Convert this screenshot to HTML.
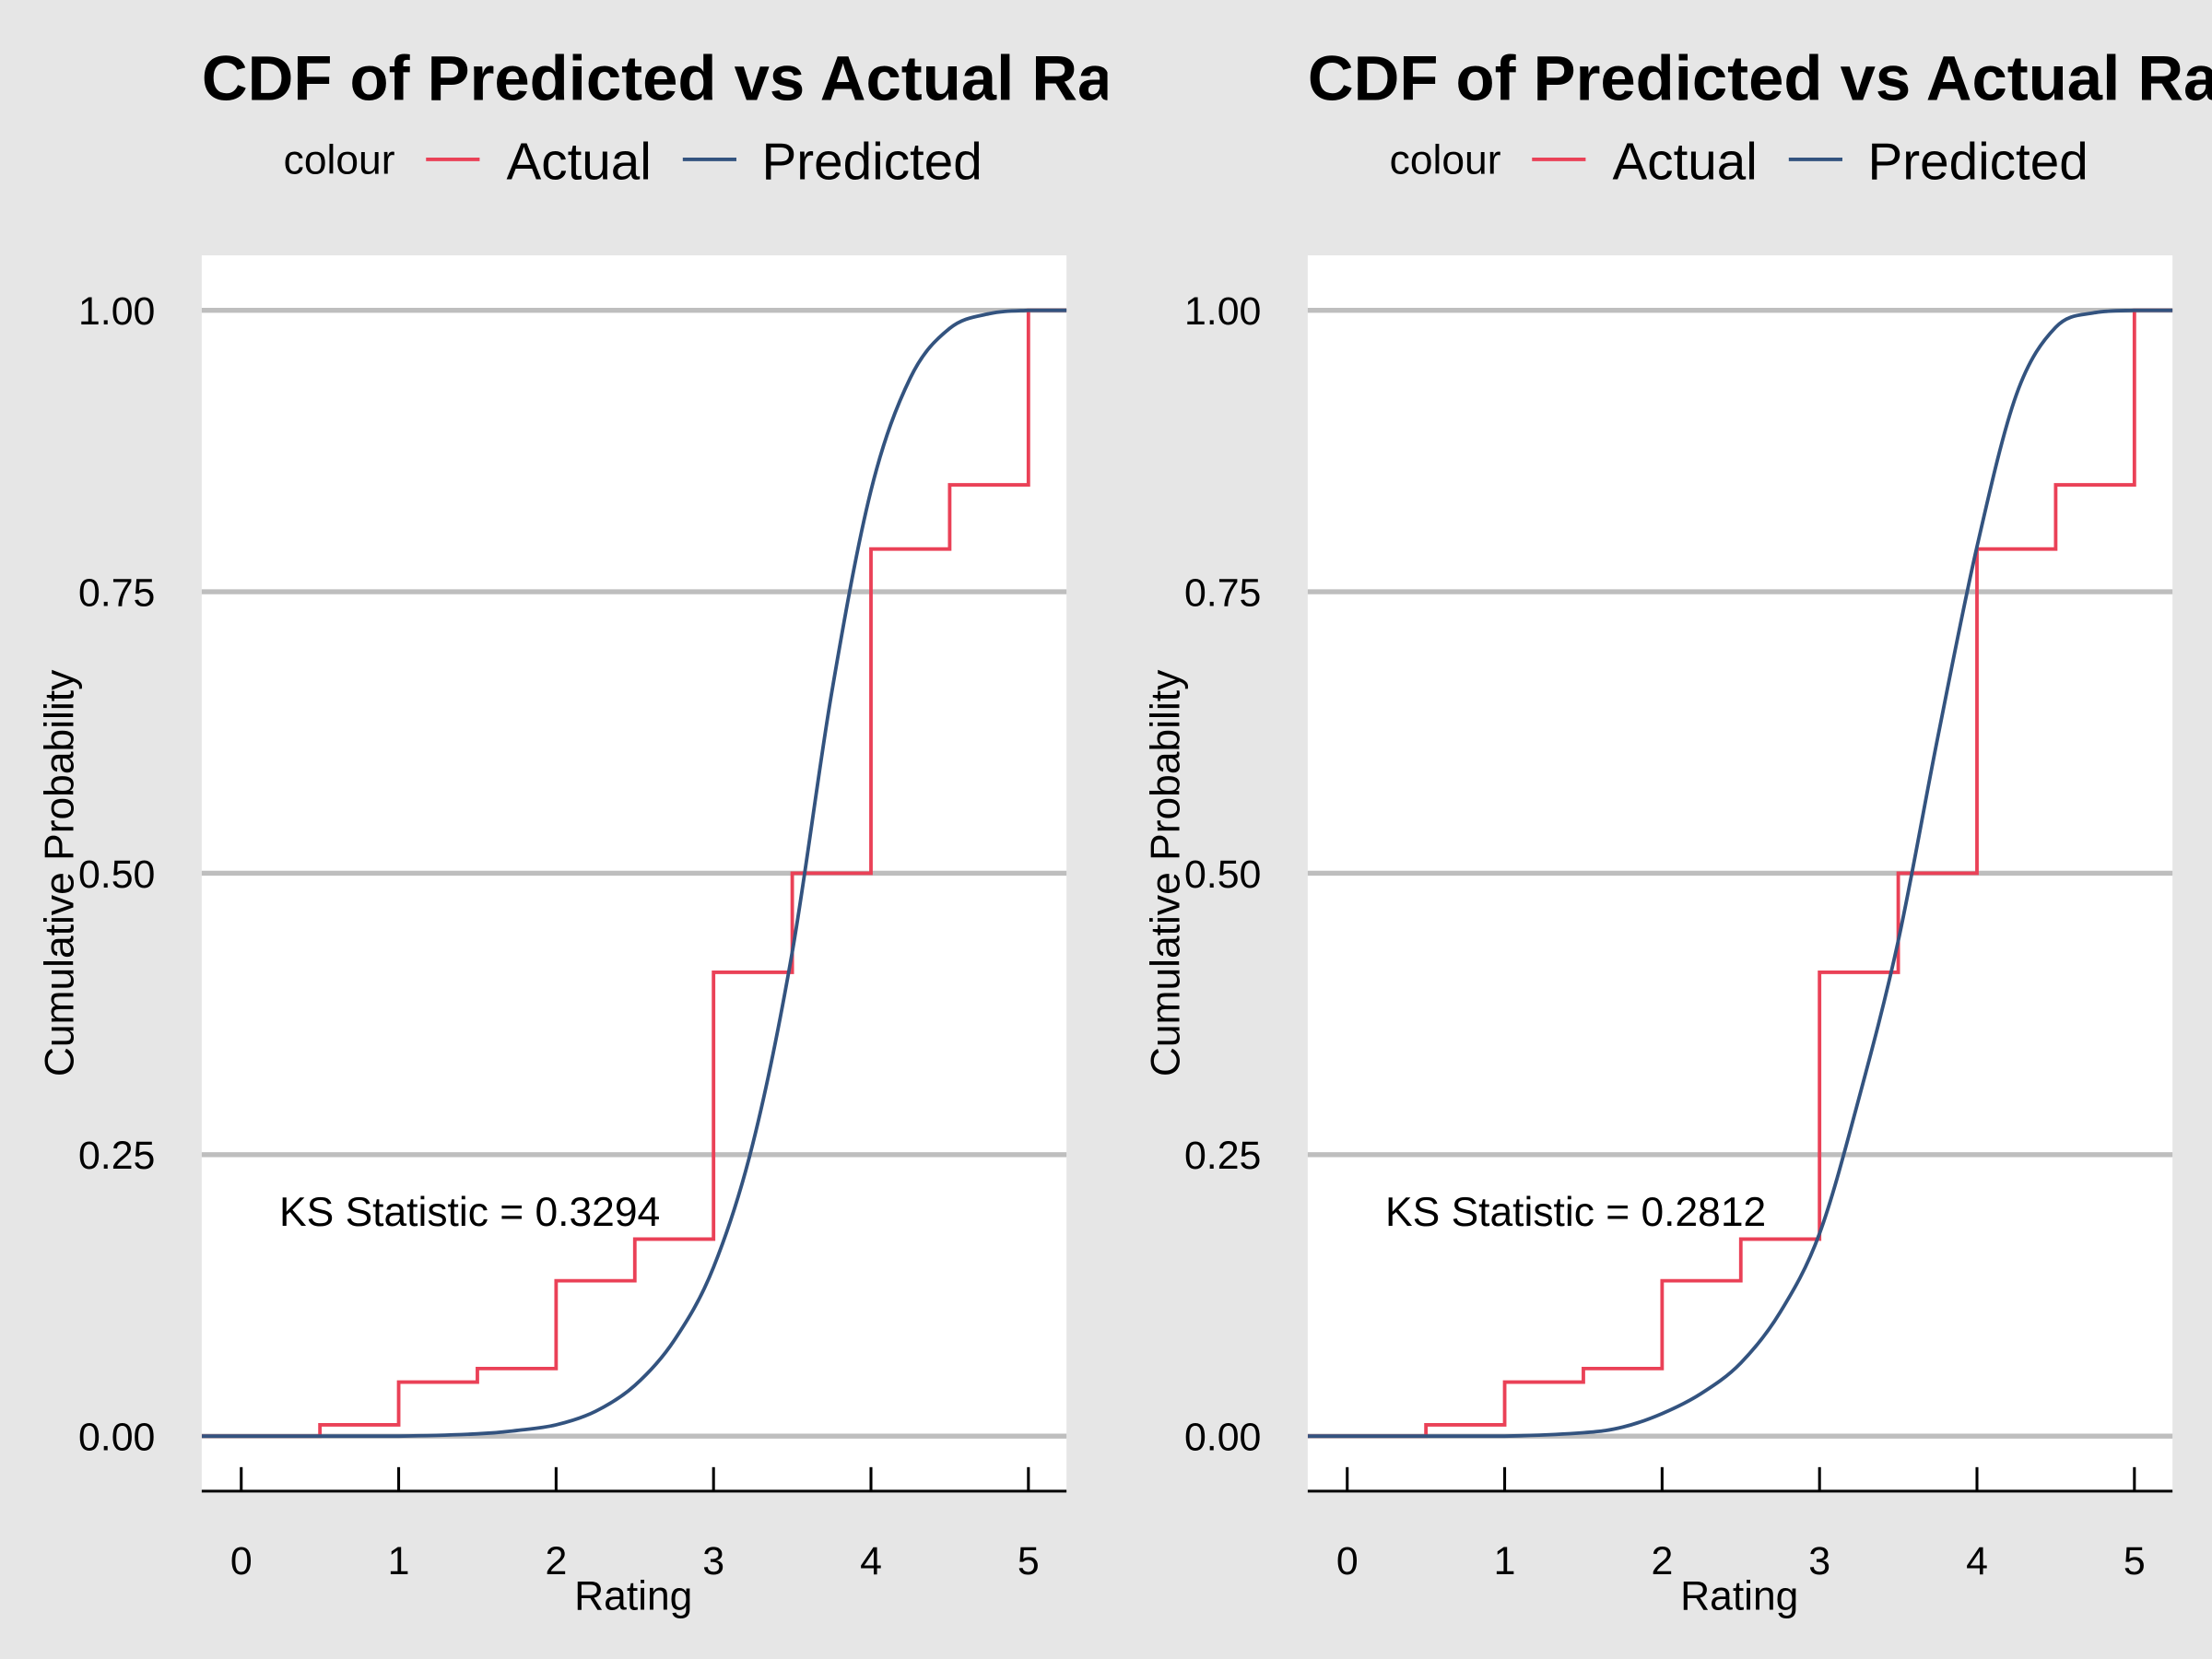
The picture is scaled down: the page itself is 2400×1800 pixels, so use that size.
<!DOCTYPE html>
<html><head><meta charset="utf-8"><style>
html,body{margin:0;padding:0;background:#e6e6e6;}
svg{display:block;font-family:"Liberation Sans",Arial,sans-serif;}
</style></head><body>
<svg id="chart" width="2400" height="1800" viewBox="0 0 1568 1176">
<rect x="0" y="0" width="1568" height="1176" fill="#e6e6e6"/>
</svg>
<script>
const actualX = [0, 0.5, 1, 1.5, 2, 2.5, 3, 3.5, 4, 4.5, 5];
const actualY = [0, 0.01, 0.048, 0.06, 0.138, 0.175, 0.412, 0.5, 0.788, 0.845, 1];
const predXLeft = [-0.25, 0, 0.5, 1, 1.5, 1.75, 2, 2.25, 2.5, 2.75, 3, 3.25, 3.5, 3.75, 4, 4.25, 4.5, 4.75, 5, 5.25];
const predYLeft = [0, 0, 0, 0, 0.002, 0.005, 0.01, 0.022, 0.045, 0.085, 0.15, 0.26, 0.43, 0.66, 0.84, 0.94, 0.984, 0.997, 1, 1];
const predXRight = [-0.25, 0, 0.5, 1, 1.5, 1.75, 2, 2.25, 2.5, 2.75, 3, 3.25, 3.5, 3.75, 4, 4.25, 4.5, 4.75, 5, 5.25];
const predYRight = [0, 0, 0, 0, 0.003, 0.008, 0.02, 0.038, 0.065, 0.11, 0.18, 0.3, 0.44, 0.62, 0.79, 0.925, 0.985, 0.998, 1, 1];
const yTicks = [0, 0.25, 0.5, 0.75, 1];
const yTickLabels = ["0.00", "0.25", "0.50", "0.75", "1.00"];
const xTicks = [0, 1, 2, 3, 4, 5];
const ksLabels = ["KS Statistic = 0.3294", "KS Statistic = 0.2812"];

const NS = "http://www.w3.org/2000/svg";
const svg = document.getElementById("chart");
const RED = "#ea4157", BLUE = "#33537f";
function mk(tag, attrs, parent) {
  const e = document.createElementNS(NS, tag);
  for (const k in attrs) e.setAttribute(k, attrs[k]);
  (parent || svg).appendChild(e);
  return e;
}
function txt(s, attrs, parent) { const t = mk("text", attrs, parent); t.textContent = s; return t; }

function smoothPath(pts, yTop, yBot) {
  const cl = v => Math.max(yTop, Math.min(yBot, v));
  let d = "M" + pts[0][0] + "," + pts[0][1];
  for (let i = 0; i < pts.length - 1; i++) {
    const p0 = pts[i - 1] || pts[i], p1 = pts[i], p2 = pts[i + 1], p3 = pts[i + 2] || p2;
    const c1x = p1[0] + (p2[0] - p0[0]) / 6, c1y = cl(p1[1] + (p2[1] - p0[1]) / 6);
    const c2x = p2[0] - (p3[0] - p1[0]) / 6, c2y = cl(p2[1] - (p3[1] - p1[1]) / 6);
    d += " C" + c1x + "," + c1y + " " + c2x + "," + c2y + " " + p2[0] + "," + p2[1];
  }
  return d;
}

function panel(off, px, py, ks, idx) {
  const g = mk("g", {});
  
  
  const L = 143 + off, R = 756 + off, T = 181, B = 1057;
  const xs = v => 171 + off + v * 111.6;
  const ys = v => 1018 - v * 798;
  const clipId = "clip" + idx;
  const cp = mk("clipPath", { id: clipId }, g);
  mk("rect", { x: L, y: T, width: R - L, height: B - T }, cp);
  const tclip = mk("clipPath", { id: "tclip" + idx }, g);
  mk("rect", { x: 0 + off, y: 0, width: 785, height: 90 }, tclip);

  const title = txt("CDF of Predicted vs Actual Ratings", { x: L, y: 71, "font-size": 45, "font-weight": "bold", fill: "#000", "clip-path": "url(#tclip" + idx + ")" }, g);
  
  

  const lg = mk("g", {}, g);
  
  
  txt("colour", { x: 201 + off, y: 123, "font-size": 29, fill: "#000" }, lg);
  const e1 = mk("g", {}, lg);
  
  
  mk("line", { x1: 302 + off, x2: 340 + off, y1: 113, y2: 113, stroke: RED, "stroke-width": 2.5 }, e1);
  txt("Actual", { x: 359 + off, y: 127, "font-size": 37, fill: "#000" }, e1);
  const e2 = mk("g", {}, lg);
  
  
  mk("line", { x1: 484 + off, x2: 522 + off, y1: 113, y2: 113, stroke: BLUE, "stroke-width": 2.5 }, e2);
  txt("Predicted", { x: 540 + off, y: 127, "font-size": 37, fill: "#000" }, e2);

  const bg = mk("rect", { x: L, y: T, width: R - L, height: B - T, fill: "#fff" }, g);
  
  

  yTicks.forEach((v, i) => {
    const gl = mk("line", { x1: L, x2: R, y1: ys(v), y2: ys(v), stroke: "#bebebe", "stroke-width": 3.5 }, g);
    
    
    const tl = txt(yTickLabels[i], { x: 110 + off, y: ys(v) + 10, "font-size": 28, "text-anchor": "end", fill: "#000" }, g);
    
    
  });

  const ax = mk("line", { x1: L, x2: R, y1: B, y2: B, stroke: "#000", "stroke-width": 2 }, g);
  
  
  xTicks.forEach(v => {
    const tk = mk("line", { x1: xs(v), x2: xs(v), y1: 1040, y2: B, stroke: "#000", "stroke-width": 2 }, g);
    
    
    const tl = txt(String(v), { x: xs(v), y: 1116, "font-size": 28, "text-anchor": "middle", fill: "#000" }, g);
    
    
  });

  const xt = txt("Rating", { x: 449 + off, y: 1141, "font-size": 29, "text-anchor": "middle", fill: "#000" }, g);
  
  
  const yt = txt("Cumulative Probability", { x: 0, y: 0, "font-size": 29, "text-anchor": "middle", fill: "#000", transform: "translate(" + (52 + off) + ",619) rotate(-90)" }, g);
  
  

  const plot = mk("g", { "clip-path": "url(#" + clipId + ")" }, g);
  let d = "M" + L + "," + ys(actualY[0]);
  for (let i = 0; i < actualX.length; i++) {
    d += " H" + xs(actualX[i]) + " V" + ys(actualY[i]);
  }
  d += " H" + R;
  const a = mk("path", { d: d, fill: "none", stroke: RED, "stroke-width": 2.5 }, plot);
  
  
  const pts = px.map((x, i) => [xs(x), ys(py[i])]);
  const p = mk("path", { d: smoothPath(pts, ys(1), ys(0)), fill: "none", stroke: BLUE, "stroke-width": 2.5 }, plot);
  
  

  const ksT = txt(ks, { x: 198 + off, y: 869, "font-size": 29, fill: "#000" }, g);
  
  
}
panel(0, predXLeft, predYLeft, ksLabels[0], 0);
panel(784, predXRight, predYRight, ksLabels[1], 1);
</script>
</body></html>
